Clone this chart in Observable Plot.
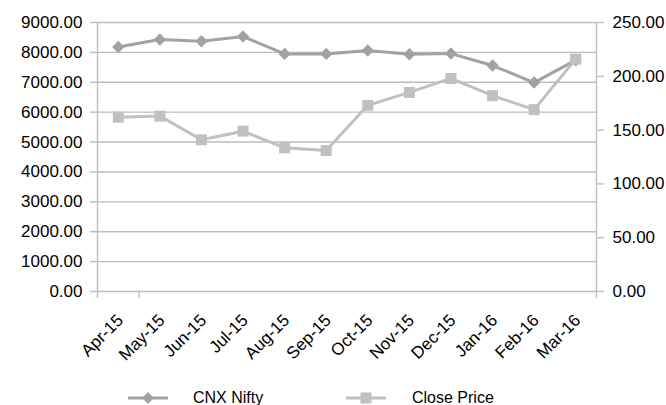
<!DOCTYPE html>
<html><head><meta charset="utf-8">
<script src="https://cdn.jsdelivr.net/npm/d3@7"></script>
<script src="https://cdn.jsdelivr.net/npm/@observablehq/plot@0.6"></script>
<style>
body{margin:0;background:#fff;font-family:"Liberation Sans",Arial,sans-serif;}
#legend{position:relative;width:666px;height:40px;font-size:16px;color:#000;}
.item{position:absolute;top:23px;height:20px;display:flex;align-items:center;}
</style>
</head><body><div id="chart"></div><div id="legend"></div>
<script>
const months = ["Apr-15","May-15","Jun-15","Jul-15","Aug-15","Sep-15","Oct-15","Nov-15","Dec-15","Jan-16","Feb-16","Mar-16"];
const nifty = [8180, 8430, 8370, 8530, 7950, 7950, 8065, 7935, 7960, 7560, 6990, 7740];
const closePrice = [162, 163, 141, 149, 133.5, 131, 173, 185, 198, 182, 169, 216];
const leftTicks = [0,1000,2000,3000,4000,5000,6000,7000,8000,9000];
const rightTicks = [0,50,100,150,200,250];
const seriesNames = ["CNX Nifty","Close Price"];
const colors = ["#a2a2a6","#c0c0c0"];
const gridColor = "#bdbdbd";

const ratio = 9000/250;
const idx = months.map((m,i)=>i);
const dataN = idx.map(i=>({i, v:nifty[i]}));
const dataC = idx.map(i=>({i, v:closePrice[i]*ratio}));

const chart = Plot.plot({
  width:666, height:365,
  marginLeft:97, marginRight:70, marginTop:22, marginBottom:74,
  style:{fontFamily:"'Liberation Sans',Arial,sans-serif", fontSize:"17px", color:"#000", background:"#fff", overflow:"visible"},
  x:{type:"linear", domain:[-0.5,11.5]},
  y:{domain:[0,9000]},
  marks:[
    Plot.gridY(leftTicks, {stroke:gridColor, strokeOpacity:1, strokeWidth:1.4}),
    Plot.ruleX([-0.5,11.5], {stroke:gridColor, strokeWidth:1.4}),
    Plot.axisY(leftTicks, {tickFormat:d=>d.toFixed(2), tickSize:7, tickPadding:8, label:null, stroke:gridColor, strokeWidth:1.4, fill:"#000"}),
    Plot.axisY(rightTicks.map(d=>d*ratio), {anchor:"right", tickFormat:d=>(d/ratio).toFixed(2), tickSize:7, tickPadding:9, label:null, stroke:gridColor, strokeWidth:1.4, fill:"#000"}),
    Plot.axisX(idx, {tickFormat:i=>months[i], tickSize:0, tickPadding:26, tickRotate:-45, dx:2, label:null, fill:"#000"}),
    Plot.axisX([-0.5,0.5,11.5], {tickFormat:()=>"", tickSize:7, label:null, stroke:gridColor, strokeWidth:1.4}),
    Plot.line(dataN, {x:"i", y:"v", stroke:colors[0], strokeWidth:3}),
    Plot.dot(dataN, {x:"i", y:"v", symbol:"diamond2", r:5.6, fill:colors[0], stroke:"none"}),
    Plot.line(dataC, {x:"i", y:"v", stroke:colors[1], strokeWidth:3}),
    Plot.dot(dataC, {x:"i", y:"v", symbol:"square", r:6.2, fill:colors[1], stroke:"none"})
  ]
});
document.getElementById("chart").appendChild(chart);

const legend = document.getElementById("legend");
const legendPos = [128, 346];
seriesNames.forEach((name, k) => {
  const it = document.createElement("div");
  it.className = "item";
  it.style.left = legendPos[k] + "px";
  const sym = k === 0
    ? `<path d="M20,4 L26,10 L20,16 L14,10 Z" fill="${colors[0]}"/>`
    : `<rect x="14.5" y="4.5" width="11" height="11" fill="${colors[1]}"/>`;
  it.innerHTML = `<svg width="40" height="20"><line x1="0" x2="40" y1="10" y2="10" stroke="${colors[k]}" stroke-width="3"/>${sym}</svg><span style="margin-left:${k===0?25:26}px">${name}</span>`;
  legend.appendChild(it);
});
</script>
</body></html>
